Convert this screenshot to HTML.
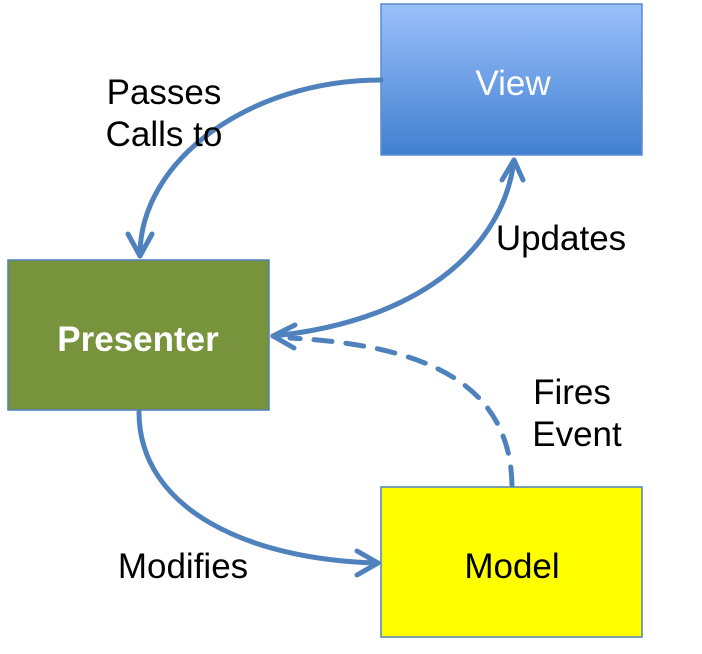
<!DOCTYPE html>
<html><head><style>
html,body{margin:0;padding:0;background:#fff;}
</style></head><body>
<svg width="702" height="649" viewBox="0 0 702 649" xmlns="http://www.w3.org/2000/svg" font-family="'Liberation Sans', sans-serif">
<defs>
<linearGradient id="vg" x1="0" y1="0" x2="0" y2="1">
<stop offset="0" stop-color="#9bc0fb"/><stop offset="1" stop-color="#4180d0"/>
</linearGradient>
</defs>
<rect x="381" y="4" width="261" height="151" fill="url(#vg)" stroke="#5b8bd0" stroke-width="1.5"/>
<rect x="8" y="260" width="261" height="150" fill="#77933c" stroke="#4f81bd" stroke-width="1.5"/>
<rect x="381" y="487" width="261" height="150" fill="#ffff00" stroke="#4f81bd" stroke-width="1.5"/>
<g fill="none" stroke="#4f81bd" stroke-width="5" stroke-linecap="round" stroke-linejoin="round">
<path d="M381 80 C250 80 140 160 140 255"/>
<path d="M128 234 L140 256 L152 234"/>
<path d="M273 336 C430 320 505 240 514 160"/>
<path d="M295 325 L273 336 L294 348"/>
<path d="M502 180 L514 160 L523 180"/>
<path d="M512 485 C510 380 420 345 290 338" stroke-dasharray="18,14"/>
<path d="M139 412 C139 510 250 560 378 563"/>
<path d="M357 551 L378 563 L357 575"/>
</g>
<g font-size="35" text-anchor="middle">
<text x="513" y="95" fill="#fff">View</text>
<text x="138" y="351" fill="#fff" font-weight="bold">Presenter</text>
<text x="512" y="578" fill="#000">Model</text>
<text x="164" y="104">Passes</text>
<text x="164" y="146">Calls to</text>
<text x="561" y="250">Updates</text>
<text x="572" y="404">Fires</text>
<text x="577" y="446">Event</text>
<text x="183" y="578">Modifies</text>
</g>
</svg>
</body></html>
